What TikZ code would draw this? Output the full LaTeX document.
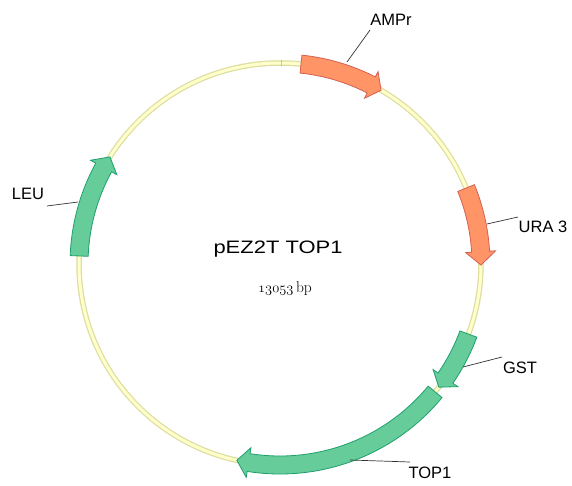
\documentclass[tikz,border=0pt]{standalone}
\usepackage{fontspec}
\newfontfamily\labfont{Liberation Sans}
\definecolor{ampfill}{RGB}{255,148,102}
\definecolor{ampdraw}{RGB}{214,96,80}
\definecolor{genfill}{RGB}{102,204,153}
\definecolor{gendraw}{RGB}{30,160,110}
\definecolor{ringdraw}{RGB}{222,222,160}
\definecolor{ringfill}{RGB}{255,255,204}
\newcommand\featarrow[4]{%
  \path[#1] (#2:210pt) arc[start angle=#2,end angle=#3,radius=210pt]
    -- (#3:216pt) -- (#4:201pt) -- (#3:186pt) -- (#3:192pt)
    arc[start angle=#3,end angle=#2,radius=192pt] -- cycle;}
\tikzset{
  resist/.style={fill=ampfill,draw=ampdraw,line width=0.8pt,line join=miter},
  gene/.style={fill=genfill,draw=gendraw,line width=0.8pt,line join=miter},
  lab/.style={font=\labfont\fontsize{16.5}{18}\selectfont,inner sep=0pt},
  leader/.style={draw=black!80,line width=0.7pt}
}
\begin{document}
\begin{tikzpicture}[x=1pt,y=1pt]
\useasboundingbox (0,0) rectangle (572,485);
\fill[white] (0,0) rectangle (572,485);
\begin{scope}[shift={(280,221)}]
  \draw[ringdraw,line width=5.5pt] (0,0) circle[radius=201pt];
  \draw[ringfill,line width=3pt] (0,0) circle[radius=201pt];
  \draw[ringdraw!80!black,line width=0.6pt] (89.6:198pt) -- (89.6:204pt);
  \featarrow{resist}{84}{63}{59.8}
  \featarrow{resist}{22.2}{3.5}{-0.3}
  \featarrow{gene}{-20.4}{-34.6}{-37.8}
  \featarrow{gene}{-39.5}{-99}{-102.4}
  \featarrow{gene}{-182.3}{-208.7}{-212.2}
\end{scope}
% labels
\node[lab] (lamp) at (391,465) {AMPr};
\node[lab] (lura) at (543,258) {URA 3};
\node[lab] (lgst) at (520,117) {GST};
\node[lab] (ltop) at (430,12) {TOP1};
\node[lab] (lleu) at (28,291) {LEU};
% leader coordinates
\coordinate (amp1) at (370,455); \coordinate (amp2) at (347,423);
\coordinate (ura1) at (518,268); \coordinate (ura2) at (487,261);
\coordinate (gst1) at (502,128); \coordinate (gst2) at (463,118);
\coordinate (top1) at (410,23);  \coordinate (top2) at (350,25);
\coordinate (leu1) at (47,279);  \coordinate (leu2) at (78,283);
\draw[leader] (amp1) -- (amp2);
\draw[leader] (ura1) -- (ura2);
\draw[leader] (gst1) -- (gst2);
\draw[leader] (top1) -- (top2);
\draw[leader] (leu1) -- (leu2);
% centre
\node[anchor=base,inner sep=0pt] (title) at (278,232)
  {\labfont\fontsize{18}{20}\selectfont\scalebox{1.22}[1]{pEZ2T TOP1}};
\node[anchor=base,inner sep=0pt] (size) at (285,193)
  {\fontsize{15.5}{18}\selectfont{\usefont{OML}{cmm}{m}{it}13053}\,bp};
\end{tikzpicture}
\end{document}
